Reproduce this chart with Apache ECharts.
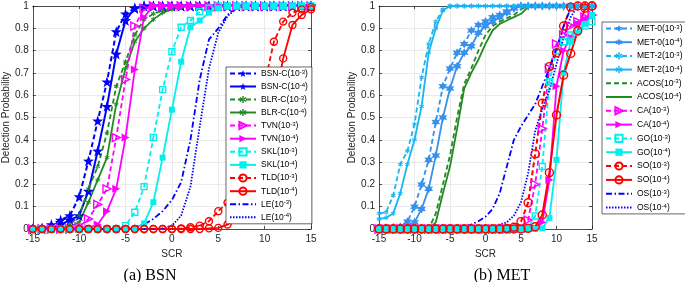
<!DOCTYPE html>
<html><head><meta charset="utf-8">
<script src="https://cdn.jsdelivr.net/npm/echarts@6/dist/echarts.min.js"></script>
<style>html,body{margin:0;padding:0;background:#fff}#c{width:685px;height:282px}</style>
</head><body><div id="c"></div>
<script>
// ---- data ----
const scr = [-15,-14,-13,-12,-11,-10,-9,-8,-7,-6,-5,-4,-3,-2,-1,0,1,2,3,4,5,6,7,8,9,10,11,12,13,14,15];
const xTickLabels = ['-15','-10','-5','0','5','10','15'];
const yTickLabels = ['0','0.1','0.2','0.3','0.4','0.5','0.6','0.7','0.8','0.9','1'];

// (a) BSN
const bsnc3 = [0,0.005,0.02,0.04,0.06,0.145,0.305,0.485,0.66,0.885,0.965,0.99,1,1,1,1,1,1,1,1,1,1,1,1,1,1,1,1,1,1,1];
const bsnc4 = [0,0,0.005,0.02,0.04,0.06,0.17,0.35,0.55,0.785,0.935,0.99,1,1,1,1,1,1,1,1,1,1,1,1,1,1,1,1,1,1,1];
const blrc3 = [0,0,0,0.005,0.02,0.06,0.18,0.28,0.43,0.64,0.75,0.87,0.94,0.965,0.98,0.99,0.995,1,1,1,1,1,1,1,1,1,1,1,1,1,1];
const blrc4 = [0,0,0,0,0.01,0.03,0.12,0.22,0.32,0.56,0.72,0.84,0.9,0.94,0.97,0.985,0.995,1,1,1,1,1,1,1,1,1,1,1,1,1,1];
const tvn3  = [0,0,0,0,0,0.01,0.045,0.11,0.18,0.41,0.67,0.91,0.99,1,1,1,1,1,1,1,1,1,1,1,1,1,1,1,1,1,1];
const tvn4  = [0,0,0,0,0,0,0.005,0.02,0.08,0.18,0.41,0.715,0.95,1,1,1,1,1,1,1,1,1,1,1,1,1,1,1,1,1,1];
const skl3  = [0,0,0,0,0,0,0,0,0,0,0.015,0.075,0.19,0.41,0.625,0.795,0.905,0.935,0.975,0.99,1,1,1,1,1,1,1,1,1,1,1];
const skl4  = [0,0,0,0,0,0,0,0,0,0,0,0.003,0.025,0.12,0.32,0.535,0.75,0.905,0.935,0.97,0.99,1,1,1,1,1,1,1,1,1,1];
const tld3  = [0,0,0,0,0,0,0,0,0,0,0,0,0,0,0,0,0.003,0.008,0.015,0.035,0.08,0.118,0.19,0.31,0.47,0.65,0.84,0.93,0.97,0.985,0.995];
const tld4  = [0,0,0,0,0,0,0,0,0,0,0,0,0,0,0,0,0,0,0,0.003,0.005,0.02,0.045,0.09,0.18,0.34,0.55,0.765,0.915,0.96,0.985];
const le3   = [0,0,0,0,0,0,0,0,0,0,0.003,0.008,0.02,0.045,0.08,0.13,0.21,0.4,0.67,0.85,0.9,0.96,0.995,1,1,1,1,1,1,1,1];
const le4   = [0,0,0,0,0,0,0,0,0,0,0,0,0,0,0.003,0.015,0.06,0.19,0.46,0.72,0.88,0.955,0.99,1,1,1,1,1,1,1,1];

// (b) MET
const met0_3 = [0.005,0.005,0.008,0.01,0.033,0.1,0.2,0.31,0.48,0.64,0.72,0.79,0.83,0.89,0.915,0.93,0.95,0.96,0.975,0.99,1,1,1,1,1,1,1,1,1,1,1];
const met0_4 = [0.005,0.005,0.005,0.008,0.01,0.03,0.09,0.18,0.33,0.5,0.63,0.73,0.79,0.82,0.88,0.91,0.93,0.95,0.97,0.99,1,1,1,1,1,1,1,1,1,1,1];
const met2_3 = [0.07,0.075,0.15,0.29,0.35,0.47,0.68,0.83,0.93,0.985,1,1,1,1,1,1,1,1,1,1,1,1,1,1,1,1,1,1,1,1,1];
const met2_4 = [0.045,0.05,0.07,0.16,0.29,0.4,0.55,0.79,0.9,0.98,1,1,1,1,1,1,1,1,1,1,1,1,1,1,1,1,1,1,1,1,1];
const acos3  = [0,0,0,0,0,0,0,0,0.07,0.2,0.33,0.5,0.65,0.72,0.8,0.87,0.91,0.93,0.945,0.96,0.985,1,1,1,1,1,1,1,1,1,1];
const acos4  = [0,0,0,0,0,0,0,0,0.03,0.16,0.28,0.45,0.63,0.7,0.76,0.83,0.89,0.92,0.935,0.95,0.965,0.995,1,1,1,1,1,1,1,1,1];
const ca3    = [0,0,0,0,0,0,0,0,0,0,0,0,0,0,0,0,0,0,0,0,0.005,0.04,0.2,0.45,0.72,0.83,0.87,0.91,0.93,0.95,0.96];
const ca4    = [0,0,0,0,0,0,0,0,0,0,0,0,0,0,0,0,0,0,0,0,0,0,0.005,0.03,0.22,0.64,0.8,0.86,0.92,0.94,0.96];
const go3    = [0,0,0,0,0,0,0,0,0,0,0,0,0,0,0,0,0,0,0,0,0,0.003,0.058,0.28,0.66,0.8,0.84,0.87,0.89,0.91,0.93];
const go4    = [0,0,0,0,0,0,0,0,0,0,0,0,0,0,0,0,0,0,0,0,0,0,0,0.003,0.05,0.31,0.7,0.84,0.88,0.92,0.96];
const so3    = [0,0,0,0,0,0,0,0,0,0,0,0,0,0,0,0,0,0,0.003,0.008,0.033,0.118,0.337,0.564,0.728,0.79,0.91,0.995,1,1,1];
const so4    = [0,0,0,0,0,0,0,0,0,0,0,0,0,0,0,0,0,0,0,0,0,0.003,0.01,0.063,0.253,0.511,0.69,0.787,0.889,0.99,1];
const os3    = [0,0,0,0,0,0,0,0,0.002,0.004,0.006,0.008,0.012,0.02,0.035,0.055,0.09,0.16,0.28,0.4,0.46,0.51,0.56,0.64,0.72,0.81,0.91,0.99,1,1,1];
const os4    = [0,0,0,0,0,0,0,0,0,0,0,0,0,0.002,0.004,0.006,0.01,0.02,0.03,0.06,0.12,0.25,0.44,0.54,0.62,0.74,0.86,0.95,1,1,1];

// ---- styles ----
const STAR5 = 'path://M0,-10L2.35,-3.24L9.51,-3.09L3.8,1.24L5.88,8.09L0,4L-5.88,8.09L-3.8,1.24L-9.51,-3.09L-2.35,-3.24Z';
const HEXA = 'path://M0,-10L2.6,-4.5L8.66,-5L5.2,0L8.66,5L2.6,4.5L0,10L-2.6,4.5L-8.66,5L-5.2,0L-8.66,-5L-2.6,-4.5Z';
const ASTER = 'path://M-2,-10L2,-10L2,10L-2,10Z M7.66,6.73L9.66,3.27L-7.66,-6.73L-9.66,-3.27Z M9.66,-3.27L7.66,-6.73L-9.66,3.27L-7.66,6.73Z';
const TRI = 'path://M-7,-8L9,0L-7,8Z';
const DASH = [5,3], DASHDOT = [6,2.5,1.5,2.5], DOT = [1.5,1.5], SOLID = 'solid';
const C = {blue:'#0000ff', green:'#238a23', mag:'#ff00ff', cyan:'#00f0f0', red:'#ff0000', met0:'#3590ee', met2:'#16b6f2'};

const left = [
  ['BSN-C(10^-3)', bsnc3, {c:C.blue, d:DASH, sym:STAR5, size:11, w:2}],
  ['BSN-C(10^-4)', bsnc4, {c:C.blue, d:SOLID, sym:STAR5, size:11, w:2}],
  ['BLR-C(10^-3)', blrc3, {c:C.green, d:DASH, sym:ASTER, size:5, w:1.8}],
  ['BLR-C(10^-4)', blrc4, {c:C.green, d:SOLID, sym:ASTER, size:5, w:1.8}],
  ['TVN(10^-3)', tvn3, {c:C.mag, d:DASH, sym:TRI, size:8, w:1.8, hollow:true}],
  ['TVN(10^-4)', tvn4, {c:C.mag, d:SOLID, sym:TRI, size:8, w:1.8}],
  ['SKL(10^-3)', skl3, {c:C.cyan, d:DASH, sym:'rect', size:6, w:1.8, hollow:true}],
  ['SKL(10^-4)', skl4, {c:C.cyan, d:SOLID, sym:'rect', size:6, w:1.8}],
  ['TLD(10^-3)', tld3, {c:C.red, d:DASH, sym:'circle', size:7, w:1.8, hollow:true}],
  ['TLD(10^-4)', tld4, {c:C.red, d:SOLID, sym:'circle', size:7, w:1.8, hollow:true}],
  ['LE(10^-3)', le3, {c:C.blue, d:DASHDOT, w:1.8}],
  ['LE(10^-4)', le4, {c:C.blue, d:DOT, w:1.8}]
];
const right = [
  ['MET-0(10^-3)', met0_3, {c:C.met0, d:DASH, sym:HEXA, size:9, w:1.8}],
  ['MET-0(10^-4)', met0_4, {c:C.met0, d:SOLID, sym:HEXA, size:9, w:1.8}],
  ['MET-2(10^-3)', met2_3, {c:C.met2, d:DASH, sym:ASTER, size:5, w:1.8}],
  ['MET-2(10^-4)', met2_4, {c:C.met2, d:SOLID, sym:ASTER, size:5, w:1.8}],
  ['ACOS(10^-3)', acos3, {c:C.green, d:DASH, w:1.8}],
  ['ACOS(10^-4)', acos4, {c:C.green, d:SOLID, w:1.8}],
  ['CA(10^-3)', ca3, {c:C.mag, d:DASH, sym:TRI, size:8, w:1.8, hollow:true}],
  ['CA(10^-4)', ca4, {c:C.mag, d:SOLID, sym:TRI, size:8, w:1.8}],
  ['GO(10^-3)', go3, {c:C.cyan, d:DASH, sym:'rect', size:6, w:1.8, hollow:true}],
  ['GO(10^-4)', go4, {c:C.cyan, d:SOLID, sym:'rect', size:6, w:1.8}],
  ['SO(10^-3)', so3, {c:C.red, d:DASH, sym:'circle', size:8, w:2, hollow:true}],
  ['SO(10^-4)', so4, {c:C.red, d:SOLID, sym:'circle', size:8, w:2, hollow:true}],
  ['OS(10^-3)', os3, {c:C.blue, d:DASHDOT, w:1.8}],
  ['OS(10^-4)', os4, {c:C.blue, d:DOT, w:1.8}]
];

const FONT = 'Liberation Sans';
const AX = '#262626';
const CLEAR = 'rgba(255,255,255,0)';

function mk(entry, g) {
  const [name, vals, st] = entry;
  let itemStyle;
  if (!st.sym) itemStyle = {color:CLEAR, borderColor:CLEAR, borderWidth:0};
  else if (st.hollow) itemStyle = {color:CLEAR, borderColor:st.c, borderWidth:1.4};
  else itemStyle = {color:st.c, borderColor:st.c, borderWidth:0};
  return {
    name, type:'line', xAxisIndex:g*2, yAxisIndex:g*2,
    data: scr.map((x,i)=>[x, vals[i]]),
    symbol: st.sym || 'circle', symbolSize: st.sym ? st.size : 1, showSymbol: !!st.sym,
    lineStyle: {color: st.c, width: st.w, type: st.d},
    itemStyle,
    emphasis:{disabled:true}, animation:false
  };
}

function xAxes(g) {
  return [
    {type:'value', gridIndex:g, min:-15, max:15, interval:5, position:'bottom',
     axisLine:{show:true, onZero:false, lineStyle:{color:AX, width:0.8}},
     axisTick:{inside:true, length:3, lineStyle:{color:AX, width:0.8}},
     axisLabel:{color:AX, fontSize:10, fontFamily:FONT, margin:5,
       formatter:(v)=>xTickLabels[Math.round((v+15)/5)]},
     splitLine:{show:true, lineStyle:{color:'#e4e4e4', width:0.8}},
     name:'SCR', nameLocation:'middle', nameGap:17,
     nameTextStyle:{color:AX, fontSize:10, fontFamily:FONT}},
    {type:'value', gridIndex:g, min:-15, max:15, interval:5, position:'top',
     axisLine:{show:true, onZero:false, lineStyle:{color:AX, width:0.8}},
     axisTick:{inside:true, length:3, lineStyle:{color:AX, width:0.8}},
     axisLabel:{show:false}, splitLine:{show:false}}
  ];
}
function yAxes(g) {
  return [
    {type:'value', gridIndex:g, min:0, max:1, interval:0.1, position:'left',
     axisLine:{show:true, onZero:false, lineStyle:{color:AX, width:0.8}},
     axisTick:{inside:true, length:3, lineStyle:{color:AX, width:0.8}},
     axisLabel:{color:AX, fontSize:10, fontFamily:FONT, margin:4,
       formatter:(v)=>yTickLabels[Math.round(v*10)]},
     splitLine:{show:true, lineStyle:{color:'#e4e4e4', width:0.8}},
     name:'Detection Probability', nameLocation:'middle', nameGap:19,
     nameTextStyle:{color:AX, fontSize:10, fontFamily:FONT}},
    {type:'value', gridIndex:g, min:0, max:1, interval:0.1, position:'right',
     axisLine:{show:true, onZero:false, lineStyle:{color:AX, width:0.8}},
     axisTick:{inside:true, length:3, lineStyle:{color:AX, width:0.8}},
     axisLabel:{show:false}, splitLine:{show:false}}
  ];
}

function legendFmt(name) {
  const m = name.match(/^(.*)\(10\^(-\d)\)$/);
  return '{n|' + m[1] + '(10}{s|' + m[2] + '}{n|)}';
}
function legend(entries, l, t, gap) {
  return {
    orient:'vertical', left:l, top:t, itemWidth:26, itemHeight:9, itemGap:gap,
    padding:[2,4,2,3], backgroundColor:'#fff', borderColor:AX, borderWidth:0.7,
    selectedMode:false, z:10,
    data: entries.map(e=>e[0]), formatter: legendFmt,
    textStyle:{color:'#000', fontFamily:FONT, fontSize:8.5,
      rich:{n:{fontFamily:FONT, fontSize:8.5, lineHeight:9, color:'#000'},
            s:{fontFamily:FONT, fontSize:6, lineHeight:6, verticalAlign:'top', color:'#000'}}}
  };
}

const chart = echarts.init(document.getElementById('c'), null, {renderer:'canvas'});
chart.setOption({
  animation:false,
  backgroundColor:'#fff',
  grid:[{left:26, top:6, width:285, height:223}, {left:379, top:6, width:213, height:223}],
  xAxis:[...xAxes(0), ...xAxes(1)],
  yAxis:[...yAxes(0), ...yAxes(1)],
  legend:[legend(left, 226, 67, 4), legend(right, 602, 22, 4.7)],
  series:[...left.map(e=>mk(e,0)), ...right.map(e=>mk(e,1))],
  graphic:[
    {type:'text', x:150, y:276, style:{text:'(a) BSN', textAlign:'center', textVerticalAlign:'middle', font:'16px "Liberation Serif"', fill:'#000'}},
    {type:'text', x:502, y:276, style:{text:'(b) MET', textAlign:'center', textVerticalAlign:'middle', font:'16px "Liberation Serif"', fill:'#000'}}
  ]
});
</script></body></html>
